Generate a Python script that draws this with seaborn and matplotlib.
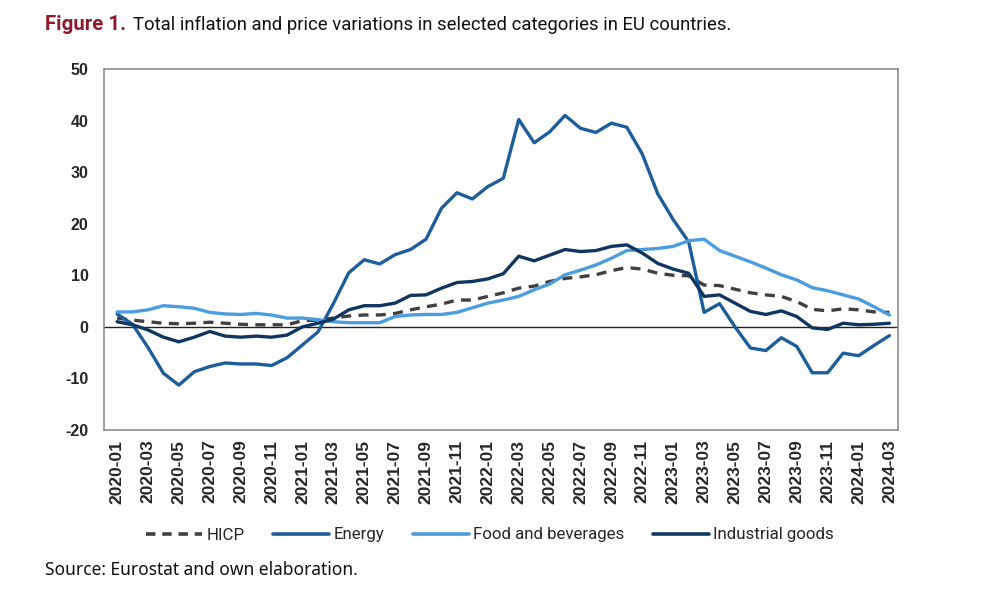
import numpy as np
import pandas as pd
import matplotlib
matplotlib.use("Agg")
import matplotlib.pyplot as plt
import seaborn as sns
from matplotlib.lines import Line2D

months = pd.date_range("2020-01", "2024-03", freq="MS").strftime("%Y-%m").tolist()

hicp = [1.7, 1.3, 1.0, 0.7, 0.6, 0.7, 0.9, 0.7, 0.5, 0.4, 0.4, 0.4,
        1.2, 1.3, 1.7, 2.1, 2.3, 2.3, 2.6, 3.3, 3.9, 4.4, 5.2, 5.2,
        5.9, 6.6, 7.5, 7.9, 8.8, 9.4, 9.7, 10.1, 10.9, 11.5, 11.2, 10.4,
        10.0, 9.9, 8.1, 8.0, 7.3, 6.6, 6.2, 5.9, 4.9, 3.4, 3.1, 3.5,
        3.3, 2.9, 2.8]
energy = [2.5, 0.5, -4.0, -9.0, -11.3, -8.7, -7.7, -7.0, -7.2, -7.2, -7.5, -6.0,
          -3.5, -1.0, 4.5, 10.5, 13.0, 12.2, 14.0, 15.0, 17.0, 23.0, 26.0, 24.8,
          27.2, 28.8, 40.2, 35.7, 37.8, 41.0, 38.5, 37.7, 39.5, 38.7, 33.5, 25.8,
          20.8, 16.5, 2.8, 4.5, 0.0, -4.1, -4.6, -2.1, -3.8, -8.9, -8.9, -5.1,
          -5.6, -3.6, -1.7]
food = [2.9, 2.9, 3.3, 4.1, 3.9, 3.6, 2.8, 2.5, 2.4, 2.6, 2.3, 1.7,
        1.7, 1.4, 1.0, 0.8, 0.8, 0.8, 2.0, 2.3, 2.4, 2.4, 2.8, 3.7,
        4.6, 5.2, 5.9, 7.2, 8.3, 10.1, 11.0, 12.0, 13.3, 14.8, 15.0, 15.2,
        15.6, 16.7, 17.0, 14.8, 13.7, 12.6, 11.4, 10.1, 9.1, 7.6, 7.0, 6.2,
        5.4, 3.9, 2.3]
industrial = [1.0, 0.4, -0.6, -2.0, -2.9, -2.0, -0.9, -1.8, -2.0, -1.8, -2.0, -1.6,
              0.0, 0.7, 1.5, 3.3, 4.1, 4.1, 4.6, 6.1, 6.2, 7.5, 8.6, 8.8,
              9.3, 10.3, 13.7, 12.8, 13.9, 15.0, 14.6, 14.8, 15.6, 15.9, 14.3, 12.3,
              11.2, 10.4, 5.9, 6.2, 4.6, 3.0, 2.4, 3.1, 2.0, -0.2, -0.5, 0.7,
              0.4, 0.5, 0.7]

series_names = ["HICP", "Energy", "Food and beverages", "Industrial goods"]
colors = {"HICP": "#404040", "Energy": "#1d5d9b",
          "Food and beverages": "#4b9de0", "Industrial goods": "#0f3561"}

rows = []
for name, vals in zip(series_names, [hicp, energy, food, industrial]):
    for i, (m, v) in enumerate(zip(months, vals)):
        rows.append({"idx": i, "month": m, "series": name, "value": v})
df = pd.DataFrame(rows)

sns.set_theme(style="white")
plt.rcParams["font.family"] = ["Liberation Sans", "DejaVu Sans"]

fig = plt.figure(figsize=(9.92, 6.14), dpi=100)
ax = fig.add_axes([0.1048, 0.2997, 0.8004, 0.5879])

sns.lineplot(data=df, x="idx", y="value", hue="series", style="series",
             hue_order=series_names, style_order=series_names,
             palette=colors,
             dashes={"HICP": (3, 2.2), "Energy": "", "Food and beverages": "",
                     "Industrial goods": ""},
             linewidth=2.4, ax=ax, legend=False)

ax.axhline(0, color="#222222", linewidth=1.0, zorder=1)

ax.set_xlim(-0.85, 50.55)
ax.set_ylim(-20, 50)
ax.set_yticks(range(-20, 51, 10))
ax.set_yticklabels([str(v) for v in range(-20, 51, 10)], fontsize=11.5, fontweight="bold")
tick_idx = list(range(0, len(months), 2))
ax.set_xticks(tick_idx)
ax.set_xticklabels([months[i] for i in tick_idx], rotation=90, fontsize=12.5,
                   fontweight="bold")
ax.tick_params(axis="y", length=0, pad=11)
ax.tick_params(axis="x", length=0, pad=7)
ax.set_xlabel("")
ax.set_ylabel("")
for s in ax.spines.values():
    s.set_visible(True)
    s.set_color("#8c8c8c")
    s.set_linewidth(1.2)

handles = [Line2D([], [], color=colors[n], linewidth=2.6,
                  linestyle=(0, (2.6, 1.9)) if n == "HICP" else "-") for n in series_names]
leg = fig.legend(handles, series_names, loc="center", bbox_to_anchor=(0.494, 1 - 535 / 614),
                 ncol=4, frameon=False, handlelength=3.3, columnspacing=1.7,
                 handletextpad=0.25,
                 prop={"family": ["Roboto", "Liberation Sans"], "size": 12.2})

fig.canvas.draw()
renderer = fig.canvas.get_renderer()

def fit_text(x0, x1, y, s, color, weight, family, size0):
    t = fig.text(x0 / 992, 1 - y / 614, s, color=color, fontweight=weight,
                 fontsize=size0, family=family, va="center", ha="left")
    w = t.get_window_extent(renderer).width
    t.set_fontsize(size0 * (x1 - x0) / w)
    return t

fit_text(45, 126, 25, "Figure 1.", "#8b1a2e", "bold", ["Roboto", "DejaVu Sans"], 14)
fit_text(133, 733, 25,
         "Total inflation and price variations in selected categories in EU countries.",
         "#111111", "normal", ["Roboto", "DejaVu Sans"], 14)
fig.text(45 / 992, 1 - 570 / 614, "Source: Eurostat and own elaboration.",
         color="#111111", fontsize=12.5, family=["Noto Sans", "DejaVu Sans"],
         va="center", ha="left")

fig.savefig("out.png", dpi=100)
